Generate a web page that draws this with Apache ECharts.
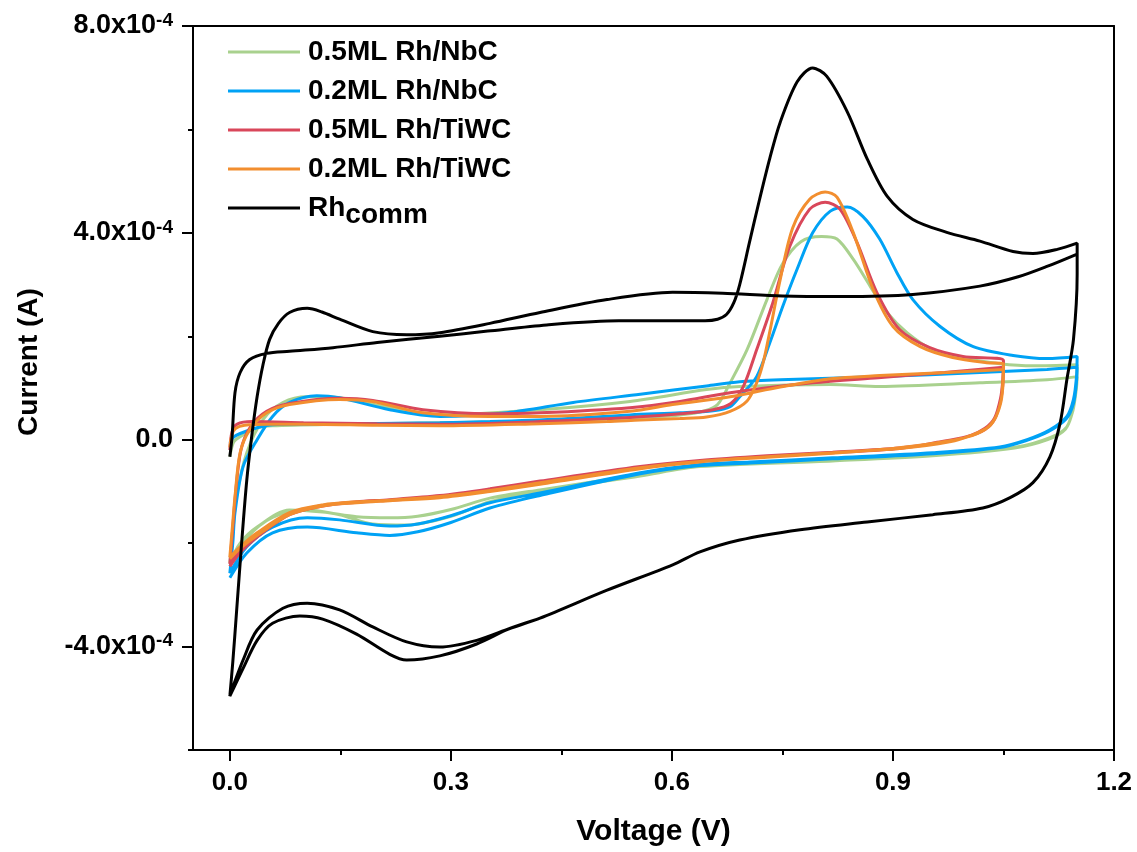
<!DOCTYPE html>
<html><head><meta charset="utf-8">
<script src="https://cdn.jsdelivr.net/npm/echarts@6/dist/echarts.min.js"></script>
<style>html,body{margin:0;padding:0;background:#fff}#c{width:1137px;height:852px}</style>
</head><body><div id="c"></div>
<script>
// Tick values (x in V, y in units of 1e-4 A)
const xTicks = [0, 0.3, 0.6, 0.9, 1.2];
const xMinorTicks = [0.15, 0.45, 0.75, 1.05];
const yTicks = [-4, 0, 4, 8];
const yMinorTicks = [-6, -2, 2, 6];

const seriesNames = ['0.5ML Rh/NbC', '0.2ML Rh/NbC', '0.5ML Rh/TiWC', '0.2ML Rh/TiWC', 'Rhcomm'];
const seriesColors = ['#A9D18E', '#00A2F5', '#D9475A', '#F28E2F', '#000000'];

// ---- 0.5ML Rh/NbC (green) [V, I x1e-4 A]
const nbc05_fwd1 = [[0,-0.33],[0.005,-0.05],[0.014,0.06],[0.037,0.23],[0.058,0.27],[0.15,0.3],[0.285,0.33],[0.421,0.36],[0.543,0.42],[0.611,0.48],[0.645,0.56],[0.662,0.68],[0.679,1.1],[0.702,1.74],[0.729,2.71],[0.75,3.4],[0.775,3.83],[0.803,3.93],[0.824,3.88],[0.846,3.49],[0.869,2.97],[0.892,2.46],[0.919,2.07],[0.954,1.74],[0.999,1.57],[1.045,1.47],[1.09,1.43],[1.15,1.45]];
const nbc05_rev1 = [[1.149,1.1],[1.145,0.64],[1.136,0.25],[1.113,0.04],[1.068,-0.14],[0.954,-0.29],[0.818,-0.39],[0.638,-0.5],[0.557,-0.68],[0.421,-0.97],[0.353,-1.13],[0.3,-1.35],[0.255,-1.48],[0.217,-1.51],[0.172,-1.49],[0.126,-1.4],[0.081,-1.36],[0.037,-1.69],[0.014,-2.0],[0,-2.38]];
const nbc05_fwd2 = [[0.004,-1.8],[0.009,-1.1],[0.023,-0.25],[0.045,0.39],[0.072,0.72],[0.105,0.83],[0.149,0.81],[0.217,0.62],[0.285,0.48],[0.421,0.58],[0.543,0.74],[0.647,0.97],[0.692,1.03],[0.815,1.07],[0.882,1.03],[1.018,1.1],[1.109,1.16],[1.15,1.22]];
const nbc05_rev2 = [[1.149,1.0],[1.144,0.55],[1.134,0.2],[1.11,0.0],[1.065,-0.16],[0.954,-0.31],[0.818,-0.41],[0.638,-0.52],[0.557,-0.7],[0.421,-1.0],[0.353,-1.2],[0.3,-1.48],[0.24,-1.65],[0.194,-1.63],[0.149,-1.45],[0.105,-1.36],[0.058,-1.5],[0.023,-1.9],[0,-2.45]];

// ---- 0.2ML Rh/NbC (blue)
const nbc02_fwd1 = [[0,-0.06],[0.005,0.05],[0.014,0.12],[0.037,0.23],[0.058,0.29],[0.172,0.31],[0.285,0.33],[0.353,0.35],[0.45,0.4],[0.543,0.48],[0.611,0.52],[0.656,0.56],[0.679,0.64],[0.692,0.83],[0.715,1.22],[0.733,1.88],[0.751,2.6],[0.77,3.3],[0.791,4.0],[0.815,4.42],[0.838,4.5],[0.859,4.32],[0.882,3.88],[0.905,3.24],[0.927,2.71],[0.964,2.19],[1.009,1.8],[1.063,1.63],[1.109,1.57],[1.15,1.61]];
const nbc02_rev1 = [[1.149,1.2],[1.145,0.78],[1.136,0.45],[1.113,0.19],[1.082,0.0],[1.045,-0.14],[0.954,-0.25],[0.818,-0.35],[0.706,-0.43],[0.638,-0.48],[0.557,-0.64],[0.421,-1.03],[0.353,-1.22],[0.3,-1.47],[0.255,-1.63],[0.217,-1.67],[0.149,-1.55],[0.105,-1.51],[0.058,-1.69],[0.023,-2.07],[0,-2.58]];
const nbc02_fwd2 = [[0.004,-2.0],[0.007,-1.41],[0.018,-0.52],[0.037,0.0],[0.058,0.45],[0.081,0.72],[0.118,0.85],[0.149,0.81],[0.217,0.58],[0.285,0.45],[0.376,0.52],[0.466,0.72],[0.557,0.88],[0.647,1.04],[0.692,1.12],[0.747,1.16],[0.882,1.22],[1.018,1.3],[1.109,1.36],[1.15,1.4]];
const nbc02_rev2 = [[1.149,1.1],[1.145,0.7],[1.135,0.4],[1.11,0.15],[1.08,-0.02],[1.045,-0.15],[0.954,-0.27],[0.818,-0.37],[0.706,-0.45],[0.638,-0.5],[0.557,-0.66],[0.421,-1.08],[0.353,-1.32],[0.3,-1.6],[0.255,-1.78],[0.217,-1.85],[0.172,-1.8],[0.105,-1.69],[0.058,-1.8],[0.023,-2.19],[0,-2.67]];

// ---- 0.5ML Rh/TiWC (red)
const tiwc05_fwd1 = [[0,-0.2],[0.003,0.15],[0.01,0.3],[0.03,0.35],[0.1,0.33],[0.2,0.31],[0.285,0.3],[0.421,0.35],[0.543,0.43],[0.611,0.5],[0.656,0.58],[0.68,0.7],[0.697,1.03],[0.715,1.74],[0.737,2.65],[0.76,3.74],[0.787,4.46],[0.808,4.59],[0.828,4.46],[0.851,3.82],[0.878,2.85],[0.909,2.13],[0.95,1.78],[0.995,1.61],[1.05,1.53]];
const tiwc05_rev1 = [[1.049,1.15],[1.046,0.8],[1.038,0.42],[1.025,0.22],[1.005,0.08],[0.97,-0.04],[0.909,-0.16],[0.818,-0.24],[0.729,-0.31],[0.638,-0.4],[0.557,-0.52],[0.421,-0.8],[0.353,-0.95],[0.285,-1.08],[0.217,-1.16],[0.172,-1.2],[0.126,-1.27],[0.081,-1.43],[0.037,-1.85],[0.014,-2.15],[0,-2.4]];
const tiwc05_fwd2 = [[0.004,-1.7],[0.008,-1.0],[0.015,-0.2],[0.028,0.25],[0.05,0.55],[0.081,0.7],[0.149,0.8],[0.194,0.76],[0.262,0.58],[0.353,0.5],[0.421,0.52],[0.543,0.62],[0.611,0.74],[0.679,0.91],[0.791,1.1],[0.88,1.2],[0.97,1.3],[1.05,1.4]];
const tiwc05_rev2 = [[1.049,1.05],[1.046,0.75],[1.038,0.4],[1.025,0.2],[1.0,0.06],[0.96,-0.05],[0.909,-0.17],[0.818,-0.25],[0.729,-0.32],[0.638,-0.41],[0.557,-0.54],[0.421,-0.82],[0.353,-0.97],[0.285,-1.1],[0.217,-1.17],[0.172,-1.21],[0.126,-1.28],[0.081,-1.45],[0.037,-1.88],[0.014,-2.18],[0,-2.45]];

// ---- 0.2ML Rh/TiWC (orange)
const tiwc02_fwd1 = [[0,-0.15],[0.003,0.1],[0.008,0.22],[0.02,0.28],[0.05,0.3],[0.1,0.3],[0.2,0.28],[0.285,0.27],[0.421,0.31],[0.512,0.35],[0.557,0.38],[0.611,0.41],[0.647,0.44],[0.679,0.55],[0.702,0.75],[0.715,1.1],[0.724,1.5],[0.733,2.1],[0.747,3.1],[0.764,4.1],[0.787,4.65],[0.808,4.79],[0.824,4.69],[0.846,4.01],[0.873,2.91],[0.9,2.19],[0.937,1.8],[0.981,1.59],[1.027,1.49],[1.05,1.47]];
const tiwc02_rev1 = [[1.049,1.1],[1.047,0.78],[1.04,0.45],[1.03,0.25],[1.009,0.1],[0.977,-0.04],[0.909,-0.17],[0.818,-0.25],[0.729,-0.33],[0.638,-0.42],[0.557,-0.54],[0.421,-0.83],[0.353,-0.98],[0.285,-1.1],[0.217,-1.17],[0.172,-1.2],[0.126,-1.26],[0.081,-1.41],[0.037,-1.8],[0.014,-2.07],[0,-2.27]];
const tiwc02_fwd2 = [[0.004,-1.6],[0.007,-1.1],[0.014,-0.25],[0.027,0.19],[0.05,0.52],[0.081,0.68],[0.149,0.78],[0.194,0.74],[0.262,0.52],[0.353,0.45],[0.421,0.45],[0.543,0.55],[0.601,0.68],[0.679,0.83],[0.747,1.02],[0.815,1.18],[0.882,1.24],[0.973,1.3],[1.05,1.36]];
const tiwc02_rev2 = [[1.049,1.0],[1.046,0.7],[1.038,0.4],[1.025,0.2],[1.0,0.05],[0.96,-0.06],[0.9,-0.17],[0.818,-0.26],[0.729,-0.34],[0.638,-0.43],[0.557,-0.56],[0.421,-0.86],[0.353,-1.0],[0.285,-1.12],[0.217,-1.18],[0.172,-1.22],[0.126,-1.28],[0.081,-1.45],[0.037,-1.85],[0.014,-2.1],[0,-2.3]];

// ---- Rh comm (black)
const comm_fwd1 = [[0,-0.33],[0.003,0.06],[0.007,0.91],[0.014,1.3],[0.027,1.55],[0.05,1.67],[0.081,1.71],[0.14,1.78],[0.2,1.88],[0.285,2.0],[0.35,2.1],[0.43,2.22],[0.528,2.3],[0.6,2.3],[0.645,2.3],[0.662,2.33],[0.674,2.42],[0.684,2.65],[0.692,3.0],[0.705,3.8],[0.719,4.65],[0.733,5.45],[0.747,6.14],[0.77,6.92],[0.791,7.19],[0.81,7.03],[0.838,6.34],[0.865,5.43],[0.892,4.71],[0.927,4.26],[0.973,4.01],[1.018,3.84],[1.063,3.64],[1.09,3.6],[1.123,3.68],[1.15,3.8]];
const comm_revTop = [[1.15,3.2],[1.145,1.94],[1.136,1.16],[1.127,0.33],[1.113,-0.33],[1.09,-0.83],[1.059,-1.12],[1.022,-1.32],[0.954,-1.45],[0.865,-1.59],[0.774,-1.74],[0.692,-1.94],[0.638,-2.17],[0.601,-2.42],[0.512,-2.91],[0.421,-3.45],[0.38,-3.65]];
const comm_rev1Tail = [[0.335,-3.95],[0.285,-4.18],[0.24,-4.26],[0.217,-4.15],[0.172,-3.76],[0.126,-3.47],[0.095,-3.41],[0.058,-3.55],[0.037,-3.88],[0.018,-4.42],[0,-4.96]];
const comm_fwd2 = [[0.004,-4.3],[0.009,-3.35],[0.016,-2.0],[0.023,-0.78],[0.03,0.1],[0.037,0.83],[0.045,1.45],[0.054,1.94],[0.066,2.25],[0.081,2.46],[0.105,2.54],[0.125,2.47],[0.149,2.33],[0.194,2.09],[0.24,2.03],[0.285,2.07],[0.353,2.25],[0.421,2.46],[0.512,2.71],[0.601,2.85],[0.669,2.83],[0.75,2.78],[0.83,2.77],[0.927,2.81],[1.018,2.97],[1.07,3.15],[1.109,3.35],[1.15,3.59]];
const comm_rev2Tail = [[0.335,-3.88],[0.285,-4.01],[0.24,-3.91],[0.194,-3.62],[0.149,-3.29],[0.105,-3.16],[0.072,-3.26],[0.037,-3.68],[0.018,-4.26],[0,-4.94]];

const seriesData = [
  [].concat(nbc05_fwd1, nbc05_rev1, nbc05_fwd2, nbc05_rev2),
  [].concat(nbc02_fwd1, nbc02_rev1, nbc02_fwd2, nbc02_rev2),
  [].concat(tiwc05_fwd1, tiwc05_rev1, tiwc05_fwd2, tiwc05_rev2),
  [].concat(tiwc02_fwd1, tiwc02_rev1, tiwc02_fwd2, tiwc02_rev2),
  [].concat(comm_fwd1, comm_revTop, comm_rev1Tail, comm_fwd2, comm_revTop, comm_rev2Tail)
];

const FONT = "Arial, 'Liberation Sans', sans-serif";
const axisLineStyle = { color: '#000', width: 2 };

const chart = echarts.init(document.getElementById('c'), null, { renderer: 'canvas' });
chart.setOption({
  animation: false,
  backgroundColor: '#fff',
  grid: { left: 193, right: 23, top: 26, bottom: 102 },
  legend: {
    orient: 'vertical', left: 228, top: 30, padding: 0,
    icon: 'rect', itemWidth: 72, itemHeight: 3, itemGap: -5,
    data: seriesNames,
    formatter: n => n === 'Rhcomm' ? '{a|Rh}{c|comm}' : n,
    textStyle: {
      fontFamily: FONT, fontSize: 28, fontWeight: 'bold', color: '#000', lineHeight: 44, padding: [0, 0, 0, 3],
      rich: {
        a: { fontFamily: FONT, fontSize: 28, fontWeight: 'bold', color: '#000', lineHeight: 44 },
        c: { fontFamily: FONT, fontSize: 28, fontWeight: 'bold', color: '#000', lineHeight: 30, padding: [14, 0, 0, 0] }
      }
    }
  },
  xAxis: [
    {
      type: 'value', min: -0.05, max: 1.2, position: 'bottom',
      name: 'Voltage (V)', nameLocation: 'middle', nameGap: 67,
      nameTextStyle: { fontFamily: FONT, fontSize: 30, fontWeight: 'bold', color: '#000' },
      axisLine: { show: true, onZero: false, lineStyle: axisLineStyle },
      axisTick: { show: true, customValues: xTicks, length: 11, lineStyle: { color: '#000', width: 2 } },
      axisLabel: { customValues: xTicks, margin: 20, formatter: v => v.toFixed(1),
        fontFamily: FONT, fontSize: 26, fontWeight: 'bold', color: '#000' },
      splitLine: { show: false }
    },
    {
      type: 'value', min: -0.05, max: 1.2, position: 'bottom',
      axisLine: { show: false, onZero: false },
      axisTick: { show: true, customValues: xMinorTicks, length: 5, lineStyle: { color: '#000', width: 2 } },
      axisLabel: { show: false }, splitLine: { show: false }
    },
    {
      type: 'value', min: -0.05, max: 1.2, position: 'top',
      axisLine: { show: true, onZero: false, lineStyle: axisLineStyle },
      axisTick: { show: false }, axisLabel: { show: false }, splitLine: { show: false }
    }
  ],
  yAxis: [
    {
      type: 'value', min: -6, max: 8, position: 'left',
      name: 'Current (A)', nameLocation: 'middle', nameGap: 150,
      nameTextStyle: { fontFamily: FONT, fontSize: 28, fontWeight: 'bold', color: '#000', padding: [0, 0, 0, 52] },
      axisLine: { show: true, onZero: false, lineStyle: axisLineStyle },
      axisTick: { show: true, customValues: yTicks, length: 11, lineStyle: { color: '#000', width: 2 } },
      axisLabel: {
        customValues: yTicks, margin: 20,
        formatter: v => v === 0 ? '{b|0.0}' : '{b|' + v.toFixed(1) + 'x10}{s|-4}',
        rich: {
          b: { fontFamily: FONT, fontSize: 27, fontWeight: 'bold', color: '#000', lineHeight: 30 },
          s: { fontFamily: FONT, fontSize: 19, fontWeight: 'bold', color: '#000', lineHeight: 19, verticalAlign: 'top' }
        }
      },
      splitLine: { show: false }
    },
    {
      type: 'value', min: -6, max: 8, position: 'left',
      axisLine: { show: false, onZero: false },
      axisTick: { show: true, customValues: yMinorTicks, length: 5, lineStyle: { color: '#000', width: 2 } },
      axisLabel: { show: false }, splitLine: { show: false }
    },
    {
      type: 'value', min: -6, max: 8, position: 'right',
      axisLine: { show: true, onZero: false, lineStyle: axisLineStyle },
      axisTick: { show: false }, axisLabel: { show: false }, splitLine: { show: false }
    }
  ],
  series: seriesNames.map((name, i) => ({
    name, type: 'line', xAxisIndex: 0, yAxisIndex: 0,
    data: seriesData[i],
    color: seriesColors[i],
    showSymbol: false, symbol: 'none', smooth: 0.3,
    lineStyle: { color: seriesColors[i], width: 3 },
    emphasis: { disabled: true },
    z: 2 + i
  }))
});
</script>
</body></html>
